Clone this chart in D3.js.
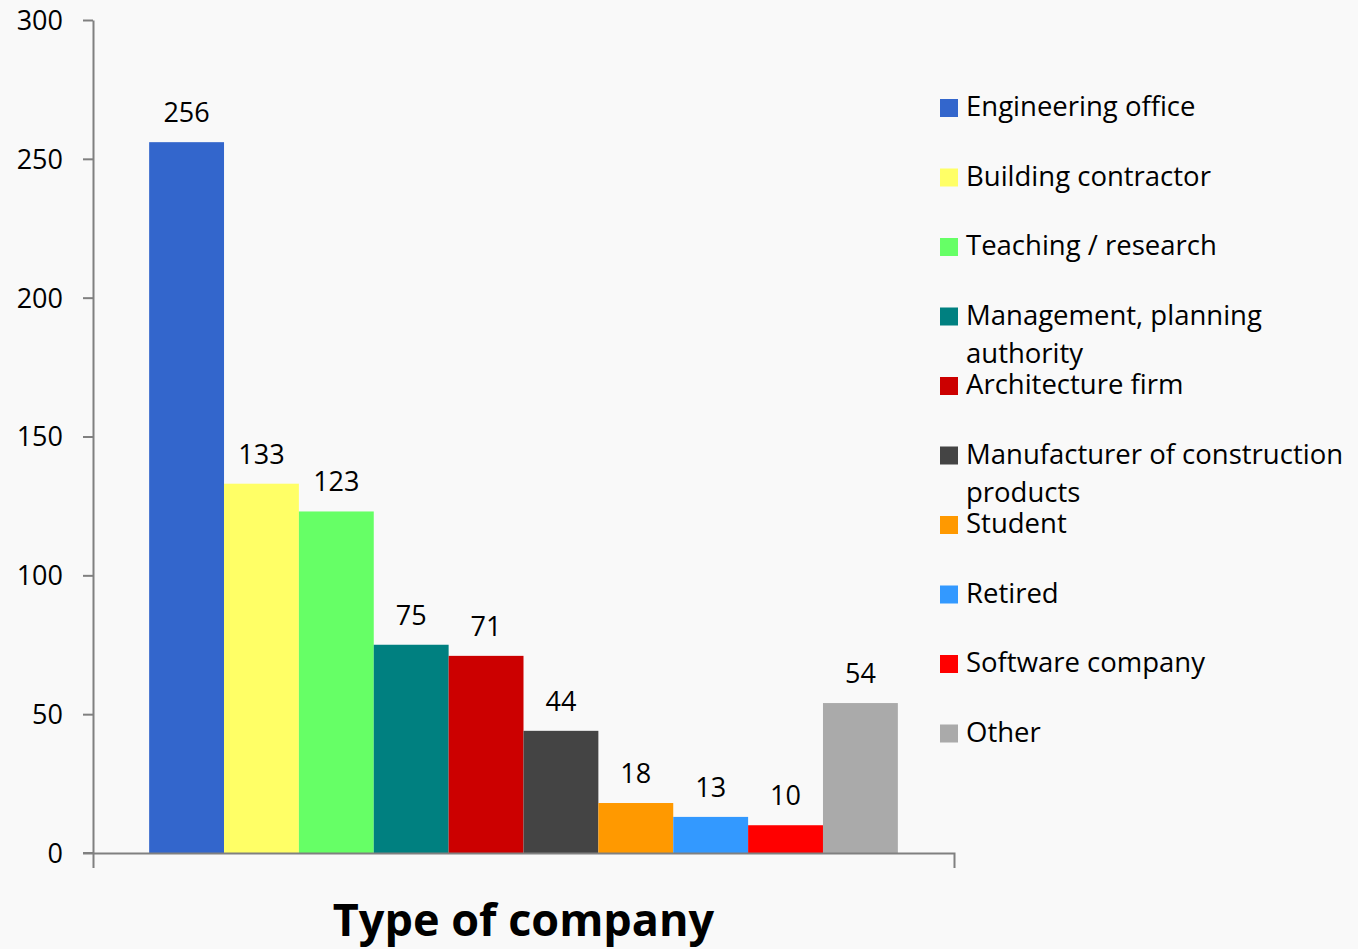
<!DOCTYPE html>
<html>
<head>
<meta charset="utf-8">
<script src="https://cdn.jsdelivr.net/npm/d3@7"></script>
<style>
  html, body { margin: 0; padding: 0; background: #f9f9f9; }
  svg { display: block; }
  text { font-family: "Open Sans", "Noto Sans", sans-serif; fill: #000; }
</style>
</head>
<body>
<svg id="chart" width="1358" height="949"></svg>
<script>
const categories = ["Engineering office", "Building contractor", "Teaching / research",
  "Management, planning authority", "Architecture firm", "Manufacturer of construction products",
  "Student", "Retired", "Software company", "Other"];
const legendLines = [["Engineering office"], ["Building contractor"], ["Teaching / research"],
  ["Management, planning", "authority"], ["Architecture firm"], ["Manufacturer of construction", "products"],
  ["Student"], ["Retired"], ["Software company"], ["Other"]];
const values = [256, 133, 123, 75, 71, 44, 18, 13, 10, 54];
const colors = ["#3366CC", "#FFFF66", "#66FF66", "#008080", "#CC0000", "#444444",
  "#FF9900", "#3399FF", "#FF0000", "#AAAAAA"];
const groupLabel = ["Type of company"];
const yTicks = [0, 50, 100, 150, 200, 250, 300];

const svg = d3.select("#chart");
const mLeft = 93, mRight = 954, mTop = 20, mBottom = 853;

const y = d3.scaleLinear().domain([0, 300]).range([mBottom, mTop]);
const xGroup = d3.scaleBand().domain(groupLabel).range([mLeft, mRight]);
const x = d3.scaleBand().domain(categories)
  .range([xGroup(groupLabel[0]), xGroup(groupLabel[0]) + xGroup.bandwidth()])
  .paddingOuter(0.75).paddingInner(0);

// bars
svg.append("g").selectAll("rect").data(categories).join("rect")
  .attr("x", d => x(d))
  .attr("y", (d, i) => y(values[i]))
  .attr("width", x.bandwidth())
  .attr("height", (d, i) => y(0) - y(values[i]))
  .attr("fill", (d, i) => colors[i]);

// value labels
svg.append("g").selectAll("text").data(categories).join("text")
  .attr("x", d => x(d) + x.bandwidth() / 2)
  .attr("y", (d, i) => y(values[i]) - 20)
  .attr("text-anchor", "middle")
  .style("font-size", "27px")
  .text((d, i) => values[i]);

// y axis
const yAxis = svg.append("g").attr("transform", `translate(${mLeft},0)`)
  .call(d3.axisLeft(y).tickValues(yTicks).tickSize(10).tickSizeOuter(0).tickPadding(20));
yAxis.selectAll("text").style("font-size", "27px").attr("dy", "0.35em").style("fill", "#000");
yAxis.selectAll("line, path").attr("stroke", "#808080").attr("stroke-width", 2);

// x axis
const xAxis = svg.append("g").attr("transform", `translate(0,${mBottom})`)
  .call(d3.axisBottom(xGroup).tickSizeInner(0).tickSizeOuter(15).tickFormat(""));
xAxis.selectAll("line, path").attr("stroke", "#808080").attr("stroke-width", 2);
svg.append("line").attr("x1", mLeft - 10).attr("x2", mLeft).attr("y1", mBottom).attr("y2", mBottom)
  .attr("stroke", "#808080").attr("stroke-width", 2);

// axis title
svg.append("text")
  .attr("x", xGroup(groupLabel[0]) + xGroup.bandwidth() / 2)
  .attr("y", 936)
  .attr("text-anchor", "middle")
  .style("font-size", "45px").style("font-weight", "bold")
  .text(groupLabel[0]);

// legend
const lg = svg.append("g");
const rowY = d3.scaleLinear().domain([0, 9]).range([117, 117 + 9 * 69.5]);
const item = lg.selectAll("g").data(categories).join("g")
  .attr("transform", (d, i) => `translate(940,${rowY(i)})`);
item.append("rect").attr("x", 0).attr("y", -18).attr("width", 18).attr("height", 18)
  .attr("fill", (d, i) => colors[i]);
item.append("text").attr("x", 26).attr("y", -1)
  .style("font-size", "27.5px")
  .selectAll("tspan").data((d, i) => legendLines[i]).join("tspan")
  .attr("x", 26).attr("dy", (d, j) => j === 0 ? 0 : 38)
  .text(d => d);
</script>
</body>
</html>
